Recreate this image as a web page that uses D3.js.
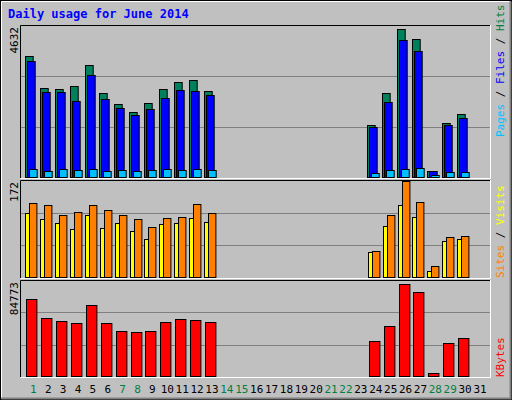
<!DOCTYPE html>
<html><head><meta charset="utf-8">
<script src="https://cdn.jsdelivr.net/npm/d3@7"></script>
<style>body{margin:0;background:#fff}svg{display:block}</style>
</head><body>
<svg id="c" width="512" height="400"></svg>
<script>
const days = d3.range(1, 32);
const weekends = [1, 7, 8, 14, 15, 21, 22, 28, 29];
const hits   = [3788,2775,2744,2837,3512,2622,2284,2038,2315,2744,2960,3021,2683,0,0,0,0,0,0,0,0,0,0,1608,2622,4632,4308,166,1669,1976,0];
const files  = [3635,2652,2652,2376,3205,2438,2161,1946,2130,2468,2714,2683,2560,0,0,0,0,0,0,0,0,0,0,1547,2345,4278,3940,166,1608,1853,0];
const pages  = [227,166,227,196,227,166,196,166,196,227,196,227,196,0,0,0,0,0,0,0,0,0,0,104,196,227,258,40,135,135,0];
const visits = [133,129,111,117,129,119,110,103,90,106,108,131,114,0,0,0,0,0,0,0,0,0,0,47,110,172,135,19,72,74,0];
const sites  = [115,103,96,85,111,88,96,83,67,94,96,105,99,0,0,0,0,0,0,0,0,0,0,45,92,128,108,11,65,67,0];
const kbytes = [70860,53240,50460,48600,65300,48600,41180,40250,41180,49530,52310,51380,49530,0,0,0,0,0,0,0,0,0,0,31900,45820,84773,77350,2230,30050,34690,0];
const maxLabels = ["4632", "172", "84773"];

const svg = d3.select("#c");
const F = "DejaVu Sans Mono, monospace";
// background and bevel
svg.append("rect").attr("x",0).attr("y",0).attr("width",512).attr("height",400).attr("fill","#C0C0C0");
svg.append("rect").attr("x",0.5).attr("y",0.5).attr("width",511).attr("height",399).attr("fill","none").attr("stroke","#000");
svg.append("path").attr("d","M1.5,398.5H510.5V1.5").attr("fill","none").attr("stroke","#808080").attr("stroke-width",2);
svg.append("path").attr("d","M1.5,397V1.5H509").attr("fill","none").attr("stroke","#fff");

svg.append("text").attr("x",8).attr("y",18).attr("font-family",F).attr("font-size",12).attr("font-weight","bold").attr("fill","#0000FF").text("Daily usage for June 2014");

const x = d3.scaleLinear().domain([1,31]).range([33.3,480]);
const panels = [
  {top:25, bot:178, y: d3.scaleLinear().domain([0,4632]).range([176.7,29])},
  {top:180, bot:278, y: d3.scaleLinear().domain([0,172]).range([276.7,181])},
  {top:280, bot:377, y: d3.scaleLinear().domain([0,84773]).range([375.7,284])}
];
panels.forEach((p,i)=>{
  const h = p.bot - p.top;
  [1,2].forEach(k=>{
    const gy = Math.round(p.top + h*k/3) + 0.5;
    svg.append("line").attr("x1",21).attr("x2",490).attr("y1",gy).attr("y2",gy).attr("stroke","#808080");
  });
  svg.append("path").attr("d",`M20.5,${p.bot}V${p.top+0.5}H490`).attr("fill","none").attr("stroke","#000");
  svg.append("path").attr("d",`M20.5,${p.bot+0.5}H490.5V${p.top}`).attr("fill","none").attr("stroke","#fff");
  svg.append("text").attr("transform",`translate(18,${p.top+2}) rotate(-90)`).attr("text-anchor","end")
    .attr("font-family",F).attr("font-size",11).attr("fill","#000").text(maxLabels[i]);
});

function bars(data, panel, x0, x1, color){
  svg.append("g").selectAll("rect").data(days.filter((d,i)=>data[i]>0)).join("rect")
    .attr("x", d=>Math.round(x(d)+x0)+0.5)
    .attr("width", x1-x0)
    .attr("y", d=>Math.round(panel.y(data[d-1]))+0.5)
    .attr("height", d=>Math.max(1, Math.round(panel.y(0)) - Math.round(panel.y(data[d-1]))))
    .attr("fill", color).attr("stroke","#000");
}
bars(hits, panels[0], -8.3, -0.6, "#00805C");
bars(files, panels[0], -6.3, 1.4, "#0000FF");
bars(pages, panels[0], -4.3, 3.4, "#00C0FF");
bars(sites, panels[1], -8, -3.6, "#FFFF00");
bars(visits, panels[1], -4, 3.4, "#FF8000");
bars(kbytes, panels[2], -7, 3.4, "#FF0000");

// day labels
svg.append("g").selectAll("text").data(days).join("text")
  .attr("x", d=>x(d)).attr("y",393).attr("text-anchor","middle")
  .attr("font-family",F).attr("font-size",11)
  .attr("fill", d=>weekends.includes(d)?"#008040":"#000").text(d=>d);

// right legends
function legend(parts, yStart){
  const t = svg.append("text").attr("transform",`translate(504,${yStart}) rotate(-90)`)
    .attr("font-family",F).attr("font-size",11);
  parts.forEach(([s,c])=>t.append("tspan").attr("fill",c).text(s));
}
legend([["Pages","#00C0FF"],[" / ","#000"],["Files","#0000FF"],[" / ","#000"],["Hits","#008040"]], 137);
legend([["Sites","#FF8000"],[" / ","#000"],["Visits","#FFFF00"]], 278);
legend([["KBytes","#FF0000"]], 377);
</script>
</body></html>
